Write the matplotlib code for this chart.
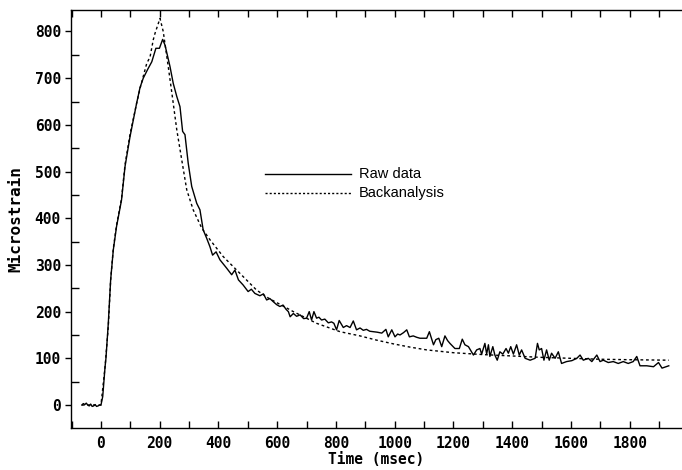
import matplotlib
matplotlib.use("Agg")
import matplotlib.pyplot as plt
from matplotlib.ticker import MultipleLocator

# ---- data ----
raw_t = [-65, -60, -55, -50, -45, -40, -35, -30, -25, -20, -15, -10, -5, 0,
         6, 14, 17, 25, 33, 42, 53, 70, 82, 99, 121, 133, 144, 160, 173, 187, 199,
         210, 218, 235, 246, 258, 269, 278, 286, 297, 309, 326, 337, 348, 360,
         371, 380, 392, 405, 428, 445, 456, 468, 484, 501, 512, 524, 541, 553,
         564, 575, 587, 598, 609, 620, 630, 638, 644, 655, 666, 678, 690, 700,
         709, 717, 725, 734, 742, 751, 762, 774, 785, 793, 802, 811, 825, 836,
         848, 859, 870, 882, 893, 904, 915, 927, 940, 956, 970, 978, 990, 1001,
         1010, 1018, 1030, 1041, 1050, 1063, 1075, 1086, 1100, 1109, 1118, 1132,
         1140, 1150, 1160, 1171, 1180, 1188, 1205, 1220, 1230, 1239, 1251, 1268,
         1279, 1290, 1296, 1307, 1313, 1319, 1324, 1334, 1341, 1349, 1358, 1368,
         1379, 1387, 1395, 1404, 1415, 1424, 1432, 1444, 1461, 1478, 1486, 1492,
         1500, 1508, 1517, 1526, 1534, 1546, 1557, 1568, 1585, 1603, 1620, 1631,
         1642, 1659, 1671, 1688, 1699, 1710, 1727, 1744, 1761, 1778, 1795, 1812,
         1824, 1835, 1858, 1881, 1898, 1910, 1933]
raw_v = [0, 3, 1, 4, 0, -2, 2, -3, -2, 1, -3, -2, 0, 0,
         18, 82, 100, 175, 268, 332, 382, 439, 511, 575, 645, 680, 700, 720, 735, 764, 764,
         783, 771, 725, 689, 661, 639, 586, 579, 518, 468, 432, 418, 375, 357,
         339, 321, 328, 311, 293, 279, 289, 268, 257, 243, 248, 239, 234, 238,
         225, 228, 221, 215, 211, 214, 205, 200, 189, 196, 190, 193, 185, 186,
         200, 182, 200, 186, 188, 182, 184, 176, 178, 175, 161, 181, 166, 170,
         166, 180, 161, 165, 160, 162, 158, 157, 156, 154, 162, 146, 161, 146,
         152, 150, 155, 161, 146, 148, 145, 143, 143, 143, 157, 129,
         140, 143, 125, 148, 138, 132, 121, 121, 141, 129, 125, 107,
         118, 121, 109, 132, 109, 129, 104, 125, 107, 96, 114, 109,
         121, 111, 125, 109, 129, 107, 118, 100, 96, 100, 132, 118,
         121, 96, 118, 96, 111, 100, 114, 89, 93, 95, 100, 107,
         96, 100, 93, 107, 93, 96, 91, 93, 89, 93, 89, 93,
         104, 84, 84, 82, 91, 79, 84]

back_t = [-65, 0, 14, 25, 33, 42, 53, 70, 82, 99, 121, 133, 156, 167, 178, 184,
          201, 212, 229, 241, 258, 275, 292, 314, 343, 371, 416, 473, 530, 570,
          655, 734, 814, 882, 938, 995, 1052, 1109, 1200, 1300, 1400, 1500,
          1600, 1700, 1800, 1933]
back_v = [0, 0, 82, 168, 268, 335, 385, 442, 515, 580, 645, 678, 732, 745, 782, 796,
          828, 800, 725, 670, 590, 525, 461, 418, 379, 354, 318, 282, 246, 229,
          200, 175, 157, 148, 139, 131, 124, 118, 112, 108, 105, 102,
          100, 98, 97, 96]

series_labels = ["Raw data", "Backanalysis"]
x_label = "Time (msec)"
y_label = "Microstrain"

# ---- figure ----
fig = plt.figure(figsize=(6.82, 4.70), dpi=100)
ax = fig.add_axes([70.7 / 682, 1 - 427.7 / 470, 1 - 70.7 / 682, (427.7 - 10) / 470])

ax.plot(raw_t, raw_v, color="black", lw=1.0)
ax.plot(back_t, back_v, color="black", lw=1.0, dashes=(2, 2))

ax.set_xlim(-103, 1978)
ax.set_ylim(-48.6, 846)

mono = "DejaVu Sans Mono"
ax.xaxis.set_major_locator(MultipleLocator(200))
ax.xaxis.set_minor_locator(MultipleLocator(100))
ax.yaxis.set_major_locator(MultipleLocator(100))
ax.yaxis.set_minor_locator(MultipleLocator(50))
ax.set_yticks([t for t in range(0, 801, 100)])

ax.tick_params(axis="x", which="both", direction="in", top=True, bottom=True,
               length=5, width=1, labelsize=10.5, pad=6)
ax.tick_params(axis="y", which="major", direction="out", length=4, width=1,
               labelsize=10.5, pad=3)
ax.tick_params(axis="y", which="minor", direction="in", length=6, width=1)
for lab in ax.get_xticklabels() + ax.get_yticklabels():
    lab.set_fontfamily(mono)
    lab.set_fontweight("bold")

ax.spines["right"].set_visible(False)
for s in ["left", "top", "bottom"]:
    ax.spines[s].set_linewidth(1.0)

ax.set_xlabel(x_label, fontfamily=mono, fontweight="bold", fontsize=10.5, labelpad=1)
ax.set_ylabel(y_label, fontfamily=mono, fontweight="bold", fontsize=11.5, labelpad=8)

# legend drawn in axes coordinates
ax.plot([0.318, 0.458], [0.607, 0.607], color="black", lw=1.0, transform=ax.transAxes)
ax.plot([0.318, 0.458], [0.562, 0.562], color="black", lw=1.0, dashes=(1.5, 1.5),
        transform=ax.transAxes)
ax.text(0.471, 0.607, series_labels[0], transform=ax.transAxes, va="center",
        ha="left", fontsize=10.5, fontfamily="Liberation Sans")
ax.text(0.471, 0.562, series_labels[1], transform=ax.transAxes, va="center",
        ha="left", fontsize=10.5, fontfamily="Liberation Sans")

fig.savefig("out.png", dpi=100)
